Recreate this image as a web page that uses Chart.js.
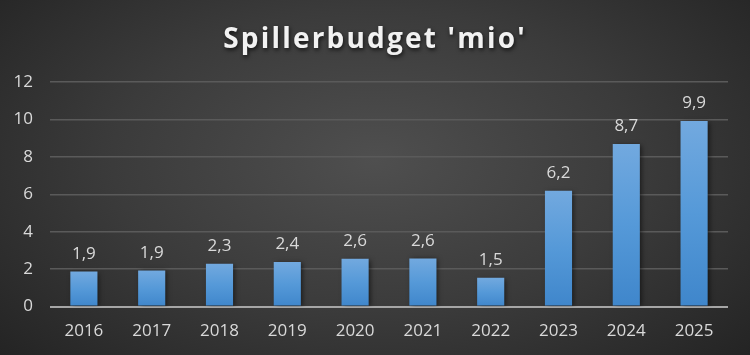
<!DOCTYPE html>
<html>
<head>
<meta charset="utf-8">
<script src="https://cdn.jsdelivr.net/npm/chart.js@4"></script>
<style>
  html, body { margin: 0; padding: 0; }
  body { width: 750px; height: 355px; overflow: hidden; }
  #wrap {
    width: 750px; height: 355px; position: relative;
    background: radial-gradient(ellipse 70% 85% at 50% 45%, #4f4f4f 0%, #3b3b3b 50%, #222222 100%);
  }
  canvas { display: block; }
</style>
</head>
<body>
<div id="wrap"><canvas id="c" width="750" height="355"></canvas></div>
<script>
const titleText = "Spillerbudget 'mio'";
const categories = ["2016", "2017", "2018", "2019", "2020", "2021", "2022", "2023", "2024", "2025"];
const budget = [1.87, 1.93, 2.29, 2.38, 2.56, 2.57, 1.54, 6.19, 8.69, 9.92];
const yTicks = [0, 2, 4, 6, 8, 10, 12];

const FONT = "'Open Sans', 'Noto Sans', sans-serif";

function barGradient(ctx) {
  const chart = ctx.chart;
  const area = chart.chartArea;
  if (!area || ctx.type !== 'data') return '#5b9bd5';
  const y = chart.scales.y;
  const top = y.getPixelForValue(ctx.parsed.y);
  const bottom = y.getPixelForValue(0);
  const g = chart.ctx.createLinearGradient(0, top, 0, bottom);
  g.addColorStop(0, '#72a9df');
  g.addColorStop(0.5, '#5599d8');
  g.addColorStop(1, '#3f86cb');
  return g;
}

const shadowPlugin = {
  id: 'barShadow',
  beforeDatasetsDraw(chart) {
    const c = chart.ctx;
    c.save();
    c.shadowColor = 'rgba(0,0,0,0.55)';
    c.shadowBlur = 5;
    c.shadowOffsetX = 2;
    c.shadowOffsetY = 1;
  },
  afterDatasetsDraw(chart) {
    chart.ctx.restore();
  }
};

const labelPlugin = {
  id: 'valueLabels',
  afterDatasetsDraw(chart) {
    const c = chart.ctx;
    const meta = chart.getDatasetMeta(0);
    c.save();
    c.font = "17px " + FONT;
    c.fillStyle = '#d9d9d9';
    c.textAlign = 'center';
    c.textBaseline = 'bottom';
    meta.data.forEach((el, i) => {
      const v = chart.data.datasets[0].data[i];
      c.fillText(v.toFixed(1).replace('.', ','), el.x, el.y - 9);
    });
    c.restore();
  }
};

const titlePlugin = {
  id: 'fancyTitle',
  afterDraw(chart) {
    const c = chart.ctx;
    c.save();
    c.font = "bold 28px " + FONT;
    if ('letterSpacing' in c) c.letterSpacing = '2.2px';
    c.fillStyle = '#f2f2f2';
    c.textAlign = 'center';
    c.textBaseline = 'alphabetic';
    c.shadowColor = 'rgba(0,0,0,0.7)';
    c.shadowBlur = 4;
    c.shadowOffsetX = 1;
    c.shadowOffsetY = 2;
    c.fillText(titleText, chart.width / 2, 48);
    c.restore();
  }
};

new Chart(document.getElementById('c'), {
  type: 'bar',
  data: {
    labels: categories,
    datasets: [{
      label: titleText,
      data: budget,
      backgroundColor: barGradient,
      borderWidth: 0,
      categoryPercentage: 1,
      barPercentage: 0.4
    }]
  },
  options: {
    responsive: false,
    animation: false,
    layout: { padding: { top: 82, right: 22, bottom: 0, left: 0 } },
    plugins: {
      legend: { display: false },
      title: { display: false },
      tooltip: { enabled: false }
    },
    scales: {
      x: {
        grid: { display: false, drawTicks: false },
        border: { display: false },
        ticks: { color: '#d9d9d9', font: { size: 17, family: FONT }, padding: 14 }
      },
      y: {
        min: 0, max: 12,
        afterFit(scale) { scale.width = 50; },
        afterBuildTicks(scale) { scale.ticks = yTicks.map(v => ({ value: v })); },
        grid: {
          drawTicks: false,
          color: ctx => (ctx.tick && ctx.tick.value === 0) ? '#a6a6a6' : '#5a5a5a',
          lineWidth: ctx => (ctx.tick && ctx.tick.value === 0) ? 2 : 1.5
        },
        border: { display: false },
        ticks: { color: '#d9d9d9', font: { size: 17, family: FONT }, padding: 17 }
      }
    }
  },
  plugins: [shadowPlugin, labelPlugin, titlePlugin]
});
</script>
</body>
</html>
